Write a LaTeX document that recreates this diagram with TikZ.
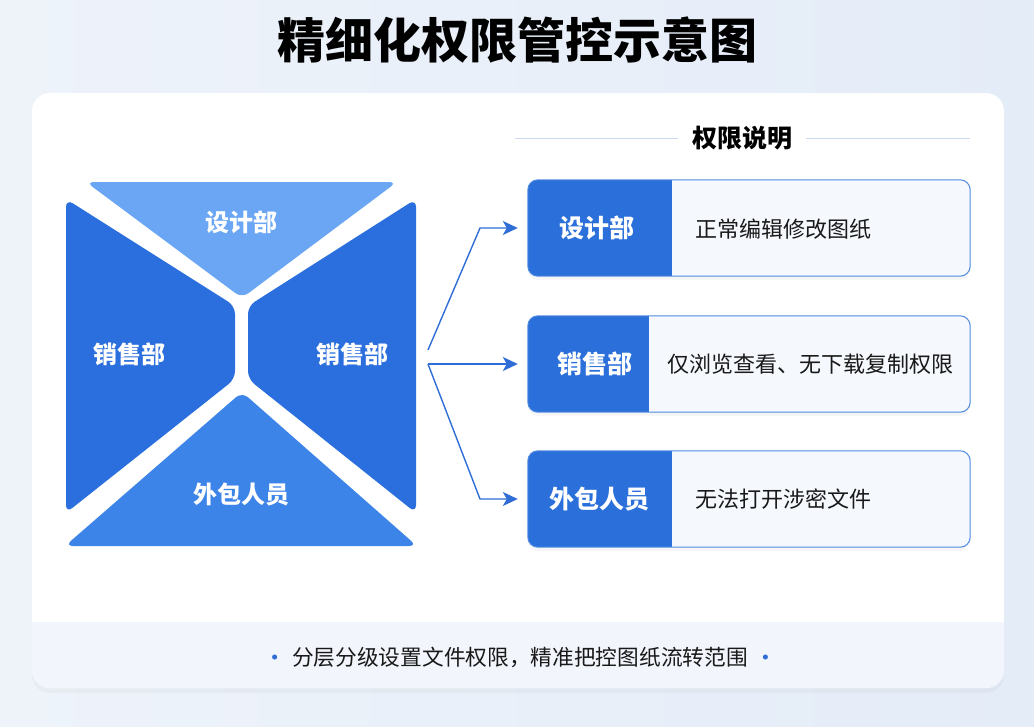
\documentclass[tikz,border=0pt]{standalone}
\usepackage{fontspec}
\setmainfont{Noto Sans CJK SC}
\usetikzlibrary{arrows.meta,shadows}
\definecolor{bgleft}{HTML}{EEF3FA}
\definecolor{bgright}{HTML}{E4ECF8}
\definecolor{striptone}{HTML}{F2F5FB}
\definecolor{toppiece}{HTML}{6AA6F3}
\definecolor{sidepiece}{HTML}{2A6FDD}
\definecolor{lowpiece}{HTML}{3D84E8}
\definecolor{cardblue}{HTML}{2B6FDA}
\definecolor{cardline}{HTML}{4F8AE2}
\definecolor{cardfill}{HTML}{F5F8FD}
\definecolor{linkblue}{HTML}{2F6ED6}
\definecolor{ruleblue}{HTML}{C9D8EF}

\begin{document}
\begin{tikzpicture}[x=1pt, y=-1pt,
    piece/.style={rounded corners=8pt},
    seclabel/.style={text=white, font=\fontsize{24}{28}\selectfont\bfseries},
    tag/.style={text=white, font=\fontsize{25}{29}\selectfont\bfseries},
    desc/.style={anchor=west, text=black!90, font=\fontsize{22}{26}\selectfont},
    card/.style={fill=cardfill, minimum width=442pt, minimum height=96pt, inner sep=0pt,
        rounded corners=10pt, drop shadow={opacity=0.07, shadow xshift=0pt, shadow yshift=-4pt}},
    link/.style={draw=linkblue, line width=1.4pt, shorten >=10pt,
        -{Stealth[length=15pt, width=14pt, inset=4pt]}},
    dot/.style={circle, fill=linkblue, inner sep=1.8pt}]
    \useasboundingbox (0,0) rectangle (1034,726);
    \shade[left color=bgleft, right color=bgright] (0,0) rectangle (1034,726);

    \node (title) at (517,40) {\fontsize{48}{54}\selectfont\bfseries 精细化权限管控示意图};

    \fill[white, rounded corners=18pt, drop shadow={opacity=0.06, shadow xshift=0pt, shadow yshift=-5pt}] (32,93) rectangle (1004,688);
    \begin{scope}
        \clip[rounded corners=18pt] (32,93) rectangle (1004,688);
        \fill[striptone] (32,622) rectangle (1004,688);
    \end{scope}

    \fill[piece, toppiece] (86,182) -- (397,182) -- (242,298) -- cycle;
    \fill[piece, sidepiece] (66,199) -- (235,306) -- (235,379) -- (66,513) -- cycle;
    \fill[piece, sidepiece] (416,199) -- (248,306) -- (248,379) -- (416,513) -- cycle;
    \fill[piece, lowpiece] (242,392) -- (417,546) -- (65,546) -- cycle;

    \node[seclabel] (design) at (241,222) {设计部};
    \node[seclabel] (salesL) at (129,354) {销售部};
    \node[seclabel] (salesR) at (352,354) {销售部};
    \node[seclabel] (outsrc) at (241,494) {外包人员};

    \node[font=\fontsize{25}{29}\selectfont\bfseries, inner sep=14pt] (legend) at (742,138) {权限说明};
    \coordinate (ruleL) at (515,138);
    \coordinate (ruleR) at (970,138);
    \draw[ruleblue, line width=1pt] (ruleL) -- (legend.west);
    \draw[ruleblue, line width=1pt] (legend.east) -- (ruleR);

    \node[card] (card1) at (749,228) {};
    \node[card] (card2) at (749,364) {};
    \node[card] (card3) at (749,499) {};
    \begin{scope}
        \clip[rounded corners=10pt] (card1.south west) rectangle (card1.north east);
        \fill[cardblue] (card1.south west) rectangle ([xshift=144pt]card1.north west);
    \end{scope}
    \begin{scope}
        \clip[rounded corners=10pt] (card2.south west) rectangle (card2.north east);
        \fill[cardblue] (card2.south west) rectangle ([xshift=121pt]card2.north west);
    \end{scope}
    \begin{scope}
        \clip[rounded corners=10pt] (card3.south west) rectangle (card3.north east);
        \fill[cardblue] (card3.south west) rectangle ([xshift=144pt]card3.north west);
    \end{scope}
    \draw[cardline, line width=1pt, rounded corners=10pt] (card1.south west) rectangle (card1.north east);
    \draw[cardline, line width=1pt, rounded corners=10pt] (card2.south west) rectangle (card2.north east);
    \draw[cardline, line width=1pt, rounded corners=10pt] (card3.south west) rectangle (card3.north east);

    \node[tag] (tag1) at ([xshift=69pt]card1.west) {设计部};
    \node[tag] (tag2) at ([xshift=67pt]card2.west) {销售部};
    \node[tag] (tag3) at ([xshift=72pt]card3.west) {外包人员};
    \node[desc] (desc1) at (692,229) {正常编辑修改图纸};
    \node[desc] (desc2) at (664,364) {仅浏览查看、无下载复制权限};
    \node[desc] (desc3) at (692,499) {无法打开涉密文件};

    \coordinate (forkA) at (428,350);
    \coordinate (forkB) at (428,364);
    \coordinate (bendA) at (480,228);
    \coordinate (bendC) at (480,499);
    \draw[link] (forkA) -- (bendA) -- (card1.west);
    \draw[link] (forkB) -- (card2.west);
    \draw[link] (forkB) -- (bendC) -- (card3.west);

    \node[font=\fontsize{21.7}{26}\selectfont, text=black!90] (note) at (520,657) {分层分级设置文件权限，精准把控图纸流转范围};
    \node[dot] (dotL) at ([xshift=-14pt]note.west) {};
    \node[dot] (dotR) at ([xshift=14pt]note.east) {};
\end{tikzpicture}
\end{document}
